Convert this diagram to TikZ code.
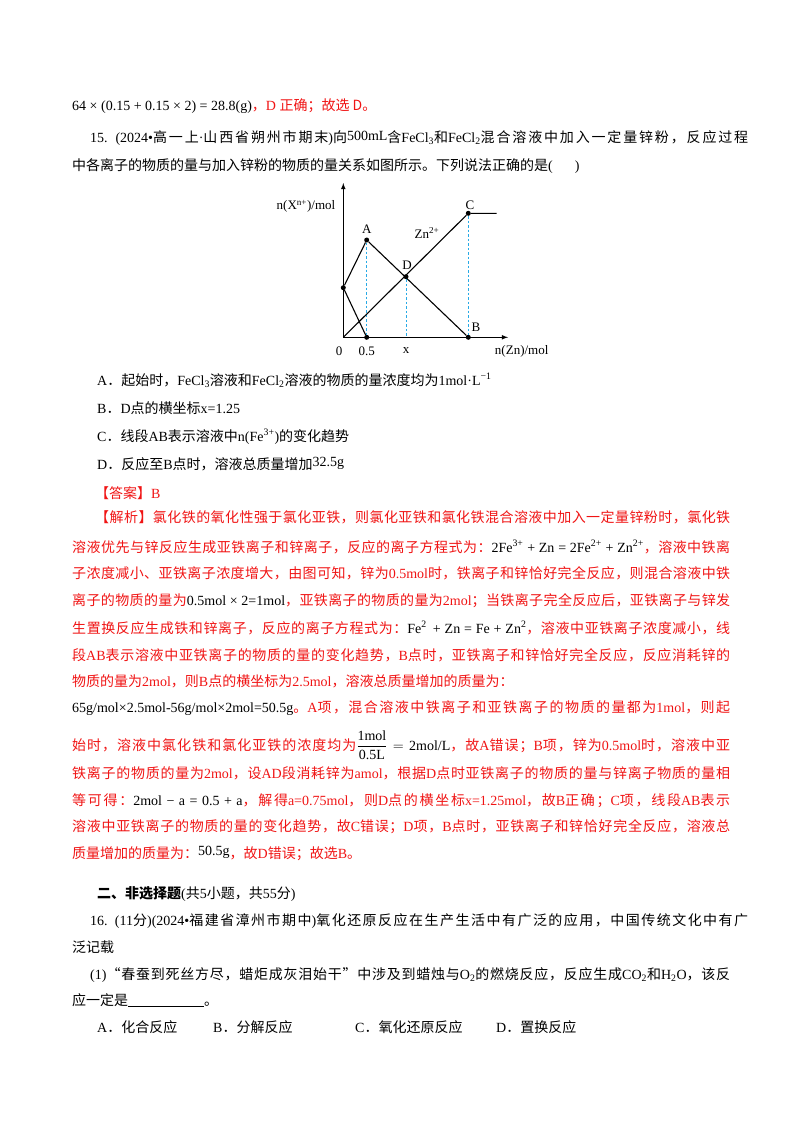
\documentclass[tikz,border=0pt]{standalone}
\usepackage{fontspec}
\setmainfont{Liberation Serif}
\newfontfamily\cjk{Noto Sans CJK SC}
\XeTeXinterchartokenstate=1
\newXeTeXintercharclass\cjkclass
\count255="3000 \loop\XeTeXcharclass\count255=\cjkclass\ifnum\count255<"303F \advance\count255 1 \repeat
\count255="4E00 \loop\XeTeXcharclass\count255=\cjkclass\ifnum\count255<"9FFF \advance\count255 1 \repeat
\count255="FF00 \loop\XeTeXcharclass\count255=\cjkclass\ifnum\count255<"FFEF \advance\count255 1 \repeat
\XeTeXcharclass"201C=\cjkclass \XeTeXcharclass"201D=\cjkclass
\XeTeXinterchartoks 0 \cjkclass={\cjk}
\XeTeXinterchartoks 4095 \cjkclass={\cjk}
\XeTeXinterchartoks \cjkclass 0={\rmfamily}
\XeTeXinterchartoks \cjkclass \cjkclass={\hskip0pt plus 3pt\relax}
\definecolor{ans}{RGB}{240,20,20}
\definecolor{guide}{RGB}{40,170,230}
\newcommand\fl[1]{\hbox to 658pt{#1}}
\newcommand\bk[1]{\textcolor{black}{\rmfamily #1}}
\begin{document}
\begin{tikzpicture}[x=1pt,y=-1pt,
  txt/.style={anchor=base west,inner sep=0pt,font=\fontsize{14}{16}\selectfont},
  red/.style={txt,text=ans},
  lbl/.style={inner sep=0pt,font=\fontsize{13}{15}\selectfont},
  curve/.style={line width=1.1pt},
  guideline/.style={guide,dashed,line width=0.9pt,dash pattern=on 2.5pt off 2pt},
  dot/.style={circle,fill=black,inner sep=0pt,minimum size=5pt}]
\useasboundingbox (0,0) rectangle (800,1132);
% top
\node[txt] (t1) at (72,110) {64 × (0.15 + 0.15 × 2) = 28.8(g)\textcolor{ans}{，D 正确；故选 D。}};
\node[txt] (q1) at (90,142) {\fl{15. (2024•高一上·山西省朔州市期末)向\raisebox{2pt}{\rmfamily 500mL}含FeCl\textsubscript{3}和FeCl\textsubscript{2}混合溶液中加入一定量锌粉，反应过程}};
\node[txt] (q2) at (72,170) {中各离子的物质的量与加入锌粉的物质的量关系如图所示。下列说法正确的是(\hspace{22pt})};
% graph
\coordinate (O) at (343.3,337.3);
\coordinate (ytop) at (343.3,183);
\coordinate (xend) at (508,337.3);
\node[dot] (A) at (366.7,240) {};
\node[dot] (D) at (406,276.7) {};
\node[dot] (C) at (468.3,213.3) {};
\node[dot] (B) at (468.3,337.3) {};
\node[dot] (S) at (343.3,287.7) {};
\node[dot] (H) at (366.7,337.3) {};
\coordinate (Cend) at (496.7,213.3);
\coordinate (Dx) at (406,337.3);
\draw[guideline] (A) -- (H);
\draw[guideline] (D) -- (Dx);
\draw[guideline] (C) -- (B);
\draw[curve,-latex] (O) -- (ytop);
\draw[curve,-latex] (O) -- (xend);
\draw[curve] (S) -- (A) -- (B);
\draw[curve] (S) -- (H);
\draw[curve] (O) -- (C) -- (Cend);
\node[lbl] (ylab) at (306,206) {n(X\textsuperscript{n+})/mol};
\node[lbl] (la) at (366.7,229) {A};
\node[lbl] (lzn) at (427,233) {Zn\textsuperscript{2+}};
\node[lbl] (ld) at (407,265) {D};
\node[lbl] (lc) at (470,205) {C};
\node[lbl] (lb) at (476,327) {B};
\node[lbl] (l0) at (339,351) {0};
\node[lbl] (l05) at (366.7,351) {0.5};
\node[lbl] (lx) at (406,351) {x};
\node[lbl] (xlab) at (521.7,351) {n(Zn)/mol};
% options
\node[txt] (oa) at (97,385) {A．起始时，FeCl\textsubscript{3}溶液和FeCl\textsubscript{2}溶液的物质的量浓度均为\bk{1mol·L\textsuperscript{−1}}};
\node[txt] (ob) at (97,413) {B．D点的横坐标\bk{x=1.25}};
\node[txt] (oc) at (97,441) {C．线段AB表示溶液中\bk{n(Fe\textsuperscript{3+})}的变化趋势};
\node[txt] (od) at (97,469) {D．反应至B点时，溶液总质量增加\raisebox{3pt}{\rmfamily 32.5g}};
\node[red] (ans) at (95,498) {【答案】B};
\node[red] (j1) at (95,522) {\hbox to 635pt{【解析】氯化铁的氧化性强于氯化亚铁，则氯化亚铁和氯化铁混合溶液中加入一定量锌粉时，氯化铁}};
\node[red] (j2) at (72,552) {\fl{溶液优先与锌反应生成亚铁离子和锌离子，反应的离子方程式为：\bk{2Fe\textsuperscript{3+} + Zn = 2Fe\textsuperscript{2+} + Zn\textsuperscript{2+}}，溶液中铁离}};
\node[red] (j3) at (72,578) {\fl{子浓度减小、亚铁离子浓度增大，由图可知，锌为0.5mol时，铁离子和锌恰好完全反应，则混合溶液中铁}};
\node[red] (j4) at (72,605) {\fl{离子的物质的量为\bk{0.5mol × 2=1mol}，亚铁离子的物质的量为2mol；当铁离子完全反应后，亚铁离子与锌发}};
\node[red] (j5) at (72,633) {\fl{生置换反应生成铁和锌离子，反应的离子方程式为：\bk{Fe\textsuperscript{2}\, + Zn = Fe + Zn\textsuperscript{2}}，溶液中亚铁离子浓度减小，线}};
\node[red] (j6) at (72,660) {\fl{段AB表示溶液中亚铁离子的物质的量的变化趋势，B点时，亚铁离子和锌恰好完全反应，反应消耗锌的}};
\node[red] (j7) at (72,686) {物质的量为2mol，则B点的横坐标为2.5mol，溶液总质量增加的质量为：};
\node[red] (j8) at (72,712) {\fl{\bk{65g/mol×2.5mol-56g/mol×2mol=50.5g}。A项，混合溶液中铁离子和亚铁离子的物质的量都为1mol，则起}};
\node[red] (j9) at (72,750) {\fl{始时，溶液中氯化铁和氯化亚铁的浓度均为\bk{$\displaystyle\frac{\mbox{\rmfamily 1mol}}{\mbox{\rmfamily 0.5L}}=\mbox{\rmfamily 2mol/L}$}，故A错误；B项，锌为0.5mol时，溶液中亚}};
\node[red] (j10) at (72,778) {\fl{铁离子的物质的量为2mol，设AD段消耗锌为amol，根据D点时亚铁离子的物质的量与锌离子物质的量相}};
\node[red] (j11) at (72,805) {\fl{等可得：\bk{2mol − a = 0.5 + a}，解得a=0.75mol，则D点的横坐标x=1.25mol，故B正确；C项，线段AB表示}};
\node[red] (j12) at (72,831) {\fl{溶液中亚铁离子的物质的量的变化趋势，故C错误；D项，B点时，亚铁离子和锌恰好完全反应，溶液总}};
\node[red] (j13) at (72,858) {质量增加的质量为：\textcolor{black}{\raisebox{3pt}{\rmfamily 50.5g}}，故D错误；故选B。};
% part two
\node[txt] (p2) at (97,898) {\textbf{二、非选择题}(共5小题，共55分)};
\node[txt] (s1) at (90,925) {\fl{16. (11分)(2024•福建省漳州市期中)氧化还原反应在生产生活中有广泛的应用，中国传统文化中有广}};
\node[txt] (s2) at (72,952) {泛记载};
\node[txt] (s3) at (90,979) {\hbox to 640pt{(1)“春蚕到死丝方尽，蜡炬成灰泪始干”中涉及到蜡烛与O\textsubscript{2}的燃烧反应，反应生成CO\textsubscript{2}和H\textsubscript{2}O，该反}};
\node[txt] (s4) at (72,1005) {应一定是\underline{\hspace{76pt}}。};
\node[txt] (c1) at (97,1032) {A．化合反应};
\node[txt] (c2) at (213,1032) {B．分解反应};
\node[txt] (c3) at (355,1032) {C．氧化还原反应};
\node[txt] (c4) at (496,1032) {D．置换反应};
\end{tikzpicture}
\end{document}
